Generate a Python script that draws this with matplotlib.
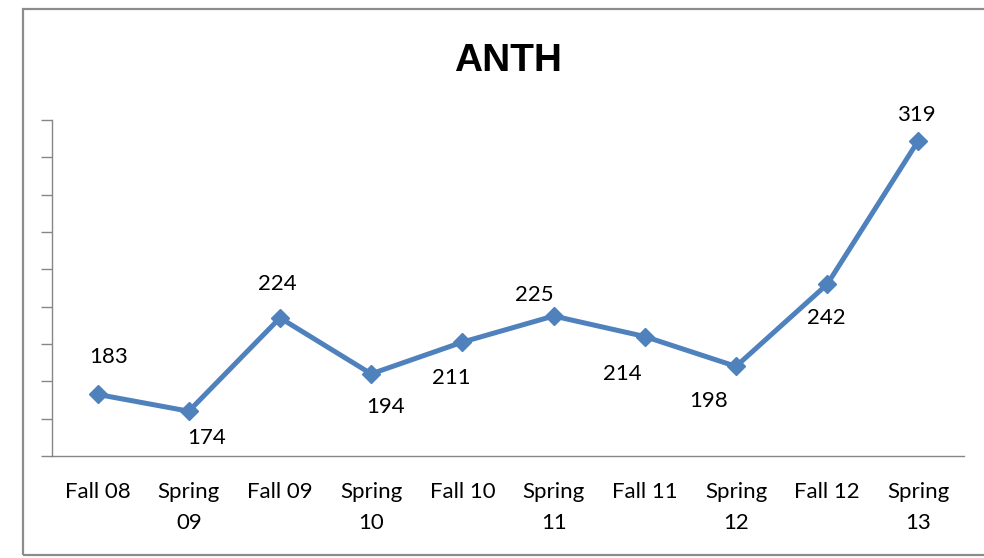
import matplotlib
matplotlib.use("Agg")
import matplotlib.pyplot as plt
from matplotlib.patches import Rectangle

terms = ["Fall 08", "Spring\n09", "Fall 09", "Spring\n10", "Fall 10",
         "Spring\n11", "Fall 11", "Spring\n12", "Fall 12", "Spring\n13"]
values = [183, 174, 224, 194, 211, 225, 214, 198, 242, 319]
# label offsets in pixels (dx, dy), positive dy = up
label_offsets = [(11, 37), (18, -27), (-3, 34), (14, -33), (-11, -36),
                 (-19, 21), (-22, -37), (-27, -35), (-1, -34), (-2, 26)]

line_color = "#4F81BD"
axis_color = "#868686"
label_font = "Lato"
label_size = 16

fig = plt.figure(figsize=(9.84, 5.58), dpi=100)
fig.patch.set_facecolor("white")

# chart frame
fig.patches.append(Rectangle((23 / 984, 1 - 555 / 558), 1.0, (555 - 9) / 558,
                             transform=fig.transFigure, fill=False,
                             edgecolor="#8c8c8c", linewidth=1.6))

ax = fig.add_axes([52 / 984, 1 - 456 / 558, (964 - 52) / 984, (456 - 120) / 558])
x = list(range(len(values)))
ax.plot(x, values, color=line_color, linewidth=3.6, marker="D",
        markersize=9.5, markerfacecolor=line_color, markeredgecolor=line_color,
        solid_joinstyle="round", zorder=3)

for xi, v, (dx, dy) in zip(x, values, label_offsets):
    ax.annotate(str(v), (xi, v), xytext=(dx, dy), textcoords="offset pixels",
                ha="center", va="center", fontsize=label_size,
                family=label_font, color="black")

ax.set_xlim(-0.5, len(values) - 0.5)
ax.set_ylim(150, 330)
ax.set_yticks(range(150, 331, 20))
ax.set_yticklabels([])
ax.set_xticks(x)
ax.set_xticklabels(terms, fontsize=label_size, family=label_font,
                   linespacing=1.64, va="top")
ax.tick_params(axis="x", length=0, pad=19)
ax.tick_params(axis="y", length=8, width=1, color=axis_color, direction="out")

for side in ["top", "right"]:
    ax.spines[side].set_visible(False)
for side in ["left", "bottom"]:
    ax.spines[side].set_color(axis_color)
    ax.spines[side].set_linewidth(1)

fig.text(508 / 984, 1 - 61 / 558, "ANTH", ha="center", va="center",
         fontsize=28, fontweight="bold", family="Liberation Sans")

fig.savefig("out.png", dpi=100)
